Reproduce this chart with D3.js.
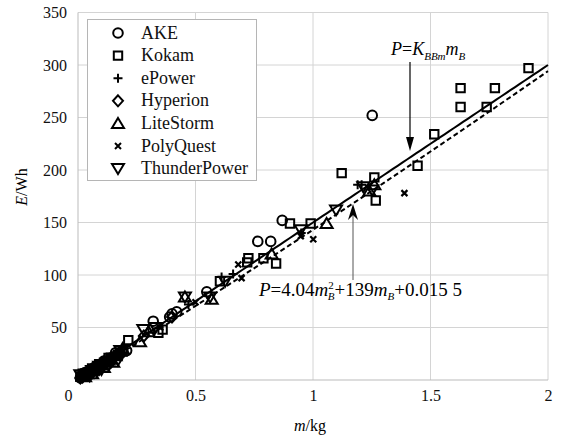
<!DOCTYPE html>
<html><head><meta charset="utf-8">
<script src="https://cdn.jsdelivr.net/npm/d3@7"></script>
<style>body{margin:0;background:#fff}svg{display:block}svg text{font-family:Tinos,"Times New Roman",Times,"Noto Serif","DejaVu Serif","Liberation Serif",serif}</style>
</head><body><svg id="c" width="561" height="439"></svg>
<script>
const xTicks = [0, 0.5, 1, 1.5, 2];
const yTicks = [50, 100, 150, 200, 250, 300, 350];
const seriesNames = ["AKE","Kokam","ePower","Hyperion","LiteStorm","PolyQuest","ThunderPower"];
const AKE = [[0.01,2],[0.02,4],[0.03,7],[0.04,6],[0.06,9],[0.07,12],[0.08,12],[0.1,15],[0.11,18],[0.12,17],[0.15,22],[0.16,26],[0.18,25],[0.207,28],[0.32,56],[0.39,60],[0.42,65],[0.40,63],[0.548,84],[0.765,132],[0.82,132],[0.869,152],[1.252,252]];
const Kokam = [[0.01,3],[0.02,6],[0.03,5],[0.05,8],[0.06,11],[0.07,10],[0.09,15],[0.1,14],[0.12,18],[0.13,21],[0.14,20],[0.17,24],[0.19,27],[0.214,38],[0.342,45],[0.36,48],[0.604,94],[0.725,116],[0.72,112],[0.789,116],[0.843,111],[0.902,149],[0.99,149],[1.122,197],[1.261,193],[1.267,171],[1.445,204],[1.516,234],[1.628,278],[1.628,260],[1.739,260],[1.774,278],[1.917,297]];
const ePower = [[0.02,3],[0.04,7],[0.05,10],[0.07,10],[0.09,14],[0.11,16],[0.12,20],[0.14,21],[0.17,25],[0.3,45],[0.47,72],[0.611,98],[0.66,101],[0.95,140],[1.19,186],[1.207,186]];
const Hyperion = [[0.01,2],[0.02,5],[0.03,5],[0.05,8],[0.06,7],[0.08,11],[0.09,10],[0.11,17],[0.13,19],[0.14,17],[0.16,23],[0.18,26],[0.28,42],[0.4,60]];
const LiteStorm = [[0.02,4],[0.03,3],[0.04,6],[0.06,6],[0.07,11],[0.1,15],[0.11,12],[0.13,19],[0.15,17],[0.16,23],[0.19,30],[0.264,36.5],[0.3,46],[0.455,79],[0.569,77],[0.824,120],[1.058,149],[1.261,186],[1.24,180]];
const PolyQuest = [[0.03,4],[0.05,8],[0.09,13],[0.12,18],[0.16,22],[0.2,30],[0.35,50],[0.5,74],[0.682,110],[0.696,97],[0.948,137],[1.001,134],[1.389,178]];
const ThunderPower = [[0.01,5],[0.02,3],[0.04,6],[0.05,4],[0.06,9],[0.08,8],[0.09,13],[0.1,10],[0.12,16],[0.13,14],[0.15,21],[0.17,19],[0.18,28],[0.278,48],[0.33,50],[0.455,79],[0.562,79],[0.626,94],[0.948,143],[1.098,162],[1.214,184],[1.252,181]];
const seriesData = [AKE,Kokam,ePower,Hyperion,LiteStorm,PolyQuest,ThunderPower];
const K = 150;
const quad = [4.04, 139, 0.0155];

const svg = d3.select("#c");
const x = d3.scaleLinear().domain([0,2]).range([78,548]);
const y = d3.scaleLinear().domain([0,350]).range([380,12.5]);

const g = svg.append("g");
g.selectAll(".vg").data(xTicks.slice(1)).join("line")
  .attr("x1",d=>x(d)).attr("x2",d=>x(d)).attr("y1",y(0)).attr("y2",y(350))
  .attr("stroke","#d4d4d4").attr("stroke-width",1);
g.selectAll(".hg").data(yTicks).join("line")
  .attr("x1",x(0)).attr("x2",x(2)).attr("y1",d=>y(d)).attr("y2",d=>y(d))
  .attr("stroke","#d4d4d4").attr("stroke-width",1);
g.append("line").attr("x1",x(0)).attr("x2",x(0)).attr("y1",y(0)).attr("y2",y(350)).attr("stroke","#bbb");
g.append("line").attr("x1",x(0)).attr("x2",x(2)).attr("y1",y(0)).attr("y2",y(0)).attr("stroke","#bbb");

const yAxis = d3.axisLeft(y).tickValues(yTicks).tickSize(0).tickPadding(11);
const ya = svg.append("g").attr("transform",`translate(${x(0)},0)`).call(yAxis).attr("font-family",null);
ya.select(".domain").remove();
ya.selectAll("text").attr("font-size",16).attr("fill","#111");
const xAxis = d3.axisBottom(x).tickValues(xTicks).tickSize(0).tickPadding(10).tickFormat(d=>String(d));
const xa = svg.append("g").attr("transform",`translate(0,${y(0)})`).call(xAxis).attr("font-family",null);
xa.select(".domain").remove();
xa.selectAll("text").attr("font-size",16).attr("fill","#111")
  .attr("dx",d=>d===0?-10:0);

svg.append("text").attr("x",310).attr("y",431).attr("text-anchor","middle").attr("font-size",16)
  .html('<tspan font-style="italic">m</tspan>/kg');
svg.append("text").attr("transform","translate(27,187) rotate(-90)").attr("text-anchor","middle").attr("font-size",16)
  .html('<tspan font-style="italic">E</tspan>/Wh');

const ms = d3.range(0, 2.0001, 0.02);
const line = d3.line().x(d=>x(d[0])).y(d=>y(d[1]));
svg.append("path").attr("d", line(ms.map(m=>[m, K*m]))).attr("fill","none").attr("stroke","#000").attr("stroke-width",2);
svg.append("path").attr("d", line(ms.map(m=>[m, quad[0]*m*m+quad[1]*m+quad[2]]))).attr("fill","none")
  .attr("stroke","#000").attr("stroke-width",2).attr("stroke-dasharray","5,3");

function markerPath(i){
  const p = d3.path();
  switch(i){
    case 0: p.arc(0,0,4.8,0,2*Math.PI); break;
    case 1: p.rect(-4.2,-4.2,8.4,8.4); break;
    case 2: p.moveTo(-4.5,0);p.lineTo(4.5,0);p.moveTo(0,-4.5);p.lineTo(0,4.5); break;
    case 3: p.moveTo(0,-5.5);p.lineTo(5,0);p.lineTo(0,5.5);p.lineTo(-5,0);p.closePath(); break;
    case 4: p.moveTo(0,-5.5);p.lineTo(6,4.5);p.lineTo(-6,4.5);p.closePath(); break;
    case 5: p.moveTo(-3,-3);p.lineTo(3,3);p.moveTo(3,-3);p.lineTo(-3,3); break;
    case 6: p.moveTo(0,5.5);p.lineTo(6,-4.5);p.lineTo(-6,-4.5);p.closePath(); break;
  }
  return p.toString();
}
seriesData.forEach((data,i)=>{
  svg.append("g").selectAll("path").data(data).join("path")
    .attr("transform",d=>`translate(${x(d[0])},${y(d[1])})`)
    .attr("d",markerPath(i)).attr("fill","none").attr("stroke","#000")
    .attr("stroke-width", i===5?2.2:2);
});

const lg = svg.append("g");
lg.append("rect").attr("x",87.5).attr("y",19.5).attr("width",169).attr("height",161)
  .attr("fill","#fff").attr("stroke","#b5b5b5");
seriesNames.forEach((n,i)=>{
  const cy = 33 + i*22.6;
  lg.append("path").attr("transform",`translate(118,${cy})`).attr("d",markerPath(i))
    .attr("fill","none").attr("stroke","#000").attr("stroke-width",2);
  lg.append("text").attr("x",141).attr("y",cy+5.5).attr("font-size",18).attr("fill","#111").text(n);
});

svg.append("text").attr("x",391).attr("y",55).attr("font-size",18).attr("font-style","italic")
  .html('P<tspan font-style="normal">=</tspan>K<tspan font-size="11" dy="5">BBm</tspan><tspan dy="-5">m</tspan><tspan font-size="11" dy="5">B</tspan>');
svg.append("line").attr("x1",410).attr("x2",410).attr("y1",62).attr("y2",140).attr("stroke","#000").attr("stroke-width",1.2);
svg.append("path").attr("d","M410,151L406,137L414,137Z").attr("fill","#000");

svg.append("text").attr("x",259).attr("y",296).attr("font-size",19)
  .html('<tspan font-style="italic">P</tspan>=4.04<tspan font-style="italic">m</tspan><tspan font-size="11" dy="-7">2</tspan><tspan font-size="11" font-style="italic" dx="-6" dy="11">B</tspan><tspan dy="-4">+139</tspan><tspan font-style="italic">m</tspan><tspan font-size="11" font-style="italic" dy="4">B</tspan><tspan dy="-4">+0.015 5</tspan>');
svg.append("line").attr("x1",353).attr("x2",353).attr("y1",212).attr("y2",280).attr("stroke","#555").attr("stroke-width",1);
svg.append("path").attr("d","M353,204L358,220L353,215L348,220Z").attr("fill","#000");
</script></body></html>
